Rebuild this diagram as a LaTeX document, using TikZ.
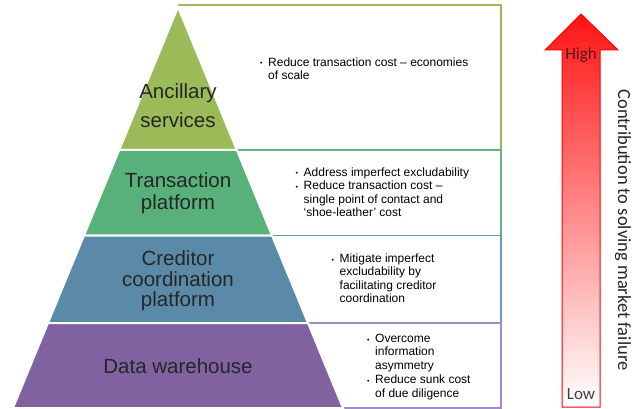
\documentclass[tikz,border=0pt]{standalone}
\usepackage{fontspec}
\setmainfont{Liberation Sans}
\newfontfamily\calibri{Carlito}

\definecolor{ancgreen}{RGB}{155,187,89}
\definecolor{trgreen}{RGB}{88,177,122}
\definecolor{credblue}{RGB}{91,138,168}
\definecolor{datapurple}{RGB}{128,98,160}
\definecolor{trline}{RGB}{100,180,130}
\definecolor{credline}{RGB}{110,150,185}
\definecolor{dataline}{RGB}{160,140,200}
\definecolor{arrowred}{RGB}{255,20,20}

\newcommand{\bul}{\makebox[8pt][l]{\raisebox{0.5pt}{\fontsize{7}{7}\selectfont\textbullet}}}
\newcommand{\ind}{\hspace*{8pt}}

\tikzset{layer/.style={draw=white, line width=2pt},
         infobox/.style={line width=1.5pt},
         layertext/.style={anchor=base, align=center, inner sep=0pt, text=black!85},
         boxtext/.style={anchor=base west, align=left, inner sep=0pt,
                         font=\fontsize{12}{13.3}\selectfont}}

\begin{document}
\begin{tikzpicture}[x=1pt,y=-1pt]

\useasboundingbox (0,0) rectangle (635,409);

% boxes behind the pyramid
\draw[infobox,ancgreen] (178,5) -- (501,5) -- (501,150) -- (178,150);
\draw[infobox,trline] (178,150) -- (501,150) -- (501,235.5) -- (178,235.5);
\draw[infobox,credline] (178,235.5) -- (501,235.5) -- (501,323) -- (178,323);
\draw[infobox,dataline] (178,323) -- (501,323) -- (501,408) -- (178,408);

% pyramid layers
\filldraw[layer,fill=ancgreen] (178,7) -- (236.8,150) -- (119.2,150) -- cycle;
\filldraw[layer,fill=trgreen] (119.2,150) -- (236.8,150) -- (272,235.5) -- (84,235.5) -- cycle;
\filldraw[layer,fill=credblue] (84,235.5) -- (272,235.5) -- (308,323) -- (48,323) -- cycle;
\filldraw[layer,fill=datapurple] (48,323) -- (308,323) -- (343,408) -- (13,408) -- cycle;

% layer names (base = last line)
\node[layertext,font=\fontsize{20.5}{29}\selectfont] (anc) at (178,128) {Ancillary\\services};
\node[layertext,font=\fontsize{20.5}{21}\selectfont] (trans) at (178,209) {Transaction\\platform};
\node[layertext,font=\fontsize{20.5}{20.5}\selectfont] (cred) at (178,306.5) {Creditor\\coordination\\platform};
\node[layertext,font=\fontsize{20.5}{21}\selectfont] (data) at (178,373) {Data warehouse};

% box texts (base = last line)
\node[boxtext] (anctxt) at (260,79.8) {\bul Reduce transaction cost -- economies\\\ind of scale};
\node[boxtext] (transtxt) at (295.5,216.4) {\bul Address imperfect excludability\\\bul Reduce transaction cost --\\\ind single point of contact and\\\ind `shoe-leather' cost};
\node[boxtext] (credtxt) at (331.5,302.4) {\bul Mitigate imperfect\\\ind excludability by\\\ind facilitating creditor\\\ind coordination};
\node[boxtext] (datatxt) at (367,397.2) {\bul Overcome\\\ind information\\\ind asymmetry\\[1.5pt]\bul Reduce sunk cost\\\ind of due diligence};

% contribution arrow
\draw[red,line width=1pt,top color=arrowred,bottom color=white]
  (562,50) -- (545,50) -- (581,14) -- (618,50) -- (600,50) -- (600,407) -- (562,407) -- cycle;
\node[font=\calibri\fontsize{17}{17}\selectfont,text={rgb,255:red,90;green,20;blue,20}] (high) at (581,55) {High};
\node[font=\calibri\fontsize{17}{17}\selectfont,text=black!75] (low) at (581,394) {Low};
\node[font=\calibri\fontsize{18.5}{19}\selectfont,text=black!85,rotate=-90] (axis) at (623,230) {Contribution to solving market failure};

\end{tikzpicture}
\end{document}
